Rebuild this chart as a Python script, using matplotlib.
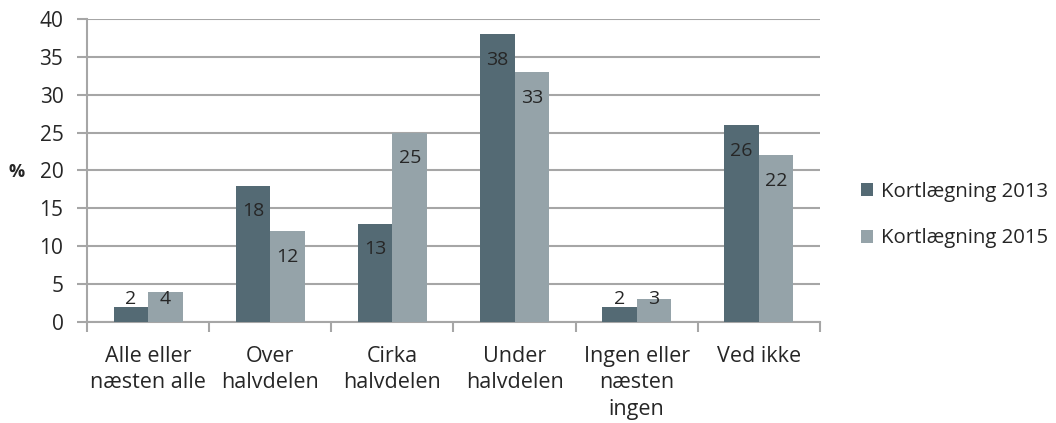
import numpy as np
import matplotlib
matplotlib.use("Agg")
import matplotlib.pyplot as plt

plt.rcParams['font.family'] = ['Open Sans', 'DejaVu Sans']

categories = ["Alle eller\nnæsten alle", "Over\nhalvdelen", "Cirka\nhalvdelen",
              "Under\nhalvdelen", "Ingen eller\nnæsten\ningen", "Ved ikke"]
series_names = ["Kortlægning 2013", "Kortlægning 2015"]
values_2013 = [2, 18, 13, 38, 2, 26]
values_2015 = [4, 12, 25, 33, 3, 22]
colors = ["#546a74", "#95a3a9"]
grid_col = "#a6a6a6"
txt_col = "#262626"

fig = plt.figure(figsize=(10.56, 4.23), dpi=100)
ax = fig.add_axes([87 / 1056, 1 - 322 / 423, (820 - 87) / 1056, (322 - 19) / 423])

x = np.arange(len(categories))
w = 0.283
for vals, off, col, name in [(values_2013, -w / 2, colors[0], series_names[0]),
                             (values_2015, w / 2, colors[1], series_names[1])]:
    ax.bar(x + off, vals, width=w, color=col, label=name, zorder=3)
    for xi, v in zip(x, vals):
        ax.text(xi + off, max(v - 3.4, 3.0), str(v), ha='center', va='center',
                fontsize=14, color=txt_col, zorder=4)

ax.set_xlim(-0.5, len(categories) - 0.5)
ax.set_ylim(0, 40)
ax.set_yticks(range(0, 41, 5))
ax.yaxis.grid(True, color=grid_col, linewidth=1.5, zorder=0)
ax.set_axisbelow(True)

for s in ['top', 'right']:
    ax.spines[s].set_visible(False)
for s in ['left', 'bottom']:
    ax.spines[s].set_color(grid_col)
    ax.spines[s].set_linewidth(1.5)

ax.set_xticks(x)
ax.set_xticklabels(categories, fontsize=15.5, color=txt_col, linespacing=1.35)
ax.tick_params(axis='x', length=0, pad=17)
ax.set_xticks(np.arange(len(categories) + 1) - 0.5, minor=True)
ax.tick_params(axis='x', which='minor', length=7, width=1.5, color=grid_col)
ax.tick_params(axis='y', length=7, width=1.5, color=grid_col, labelsize=15,
               labelcolor=txt_col, pad=10)

fig.text(17 / 1056, 1 - 172 / 423, "%", fontsize=13, fontweight='bold',
         color=txt_col, ha='center', va='center')

leg = fig.legend(loc='center left', bbox_to_anchor=(853 / 1056, 1 - 215 / 423),
                 borderaxespad=0, frameon=False, fontsize=14.7, handlelength=0.6,
                 handleheight=0.6, handletextpad=0.35, labelspacing=1.3)
for t in leg.get_texts():
    t.set_color(txt_col)

fig.savefig("out.png", dpi=100)
